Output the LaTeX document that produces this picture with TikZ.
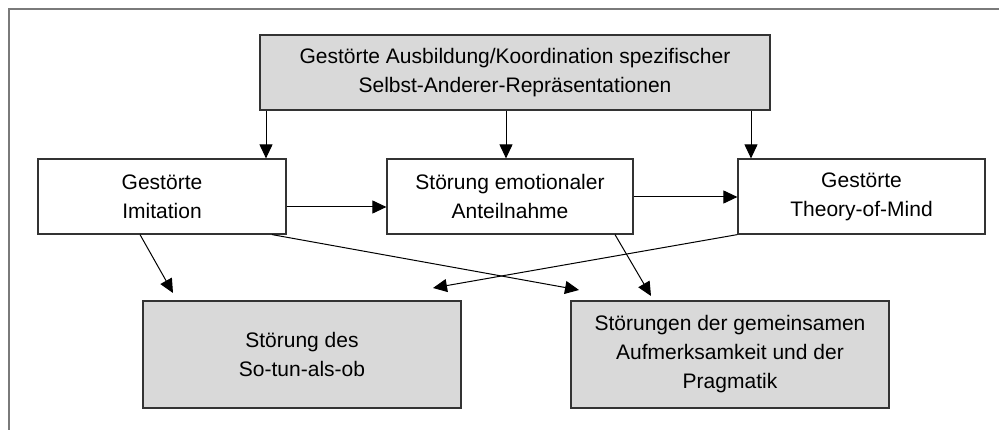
\documentclass[tikz,border=0pt]{standalone}
\usepackage{fontspec}
\setmainfont{Liberation Sans}
\usetikzlibrary{arrows.meta}
\definecolor{boxgray}{HTML}{D9D9D9}
\definecolor{edgegray}{HTML}{333333}
\definecolor{framegray}{HTML}{7A7A7A}
\definecolor{txt}{HTML}{000000}
\tikzset{
  box/.style={draw=edgegray, line width=1.2pt, inner sep=0pt, align=center,
    text=txt, font=\fontsize{21}{29}\selectfont},
  grey/.style={box, fill=boxgray},
  arr/.style={draw=txt, line width=1pt, -{Triangle[length=14pt,width=13pt]}}
}
\begin{document}
\begin{tikzpicture}[x=1pt,y=-1pt]
\useasboundingbox (0,0) rectangle (999,430);
% frame
\draw[framegray, line width=2pt] (9,430) -- (9,9.5) -- (999,9.5);
% nodes
\node[grey, minimum width=510pt, minimum height=75pt] (top) at (515,72.5)
  {Gestörte Ausbildung/Koordination spezifischer\\Selbst-Anderer-Repräsentationen};
\node[box, minimum width=248pt, minimum height=75pt] (lm) at (162,196.5)
  {Gestörte\\Imitation};
\node[box, minimum width=246pt, minimum height=75pt] (mm) at (510,196.5)
  {Störung emotionaler\\Anteilnahme};
\node[box, minimum width=247pt, minimum height=75pt] (rm) at (861.5,196.5)
  {Gestörte\\Theory-of-Mind};
\node[grey, minimum width=318pt, minimum height=107pt] (lb) at (302,354.5)
  {Störung des\\So-tun-als-ob};
\node[grey, minimum width=318pt, minimum height=107pt] (rb) at (730,354.5)
  {Störungen der gemeinsamen\\Aufmerksamkeit und der\\Pragmatik};
% connector coordinates
\coordinate (c1) at (266,0);
\coordinate (c2) at (506,0);
\coordinate (c3) at (751,0);
\coordinate (h1) at (0,207);
\coordinate (h2) at (0,197);
\coordinate (s1) at (140,0);
\coordinate (t1) at (173,293);
\coordinate (s2) at (272,0);
\coordinate (t2) at (579,290);
\coordinate (t3) at (433,288);
\coordinate (s4) at (615,0);
\coordinate (t4) at (651,296);
% connectors
\draw[arr] (top.south -| c1) -- (lm.north -| c1);
\draw[arr] (top.south -| c2) -- (mm.north -| c2);
\draw[arr] (top.south -| c3) -- (rm.north -| c3);
\draw[arr] (lm.east |- h1) -- (mm.west |- h1);
\draw[arr] (mm.east |- h2) -- (rm.west |- h2);
\draw[arr] (lm.south -| s1) -- (t1);
\draw[arr] (lm.south -| s2) -- (t2);
\draw[arr] (rm.south west) -- (t3);
\draw[arr] (mm.south -| s4) -- (t4);
\end{tikzpicture}
\end{document}
